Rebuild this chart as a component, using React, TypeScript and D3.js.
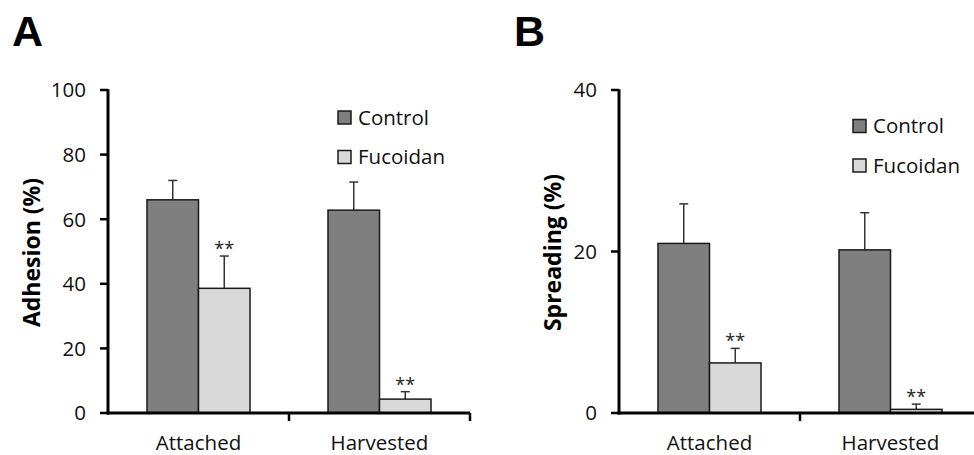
import React from "react";
import * as d3 from "d3";

const categories = ["Attached", "Harvested"];
const seriesNames = ["Control", "Fucoidan"];
const adhesionValues = [[66, 38.6], [62.8, 4.3]];
const adhesionErrors = [[6, 10], [8.7, 2.3]];
const spreadingValues = [[21.0, 6.2], [20.2, 0.45]];
const spreadingErrors = [[4.9, 1.8], [4.6, 0.65]];
const adhesionTicks = [0, 20, 40, 60, 80, 100];
const spreadingTicks = [0, 20, 40];
const colors = ["#7f7f7f", "#d9d9d9"];
const FONT = "'Open Sans', 'DejaVu Sans', sans-serif";

type PanelProps = {
  label: string;
  labelX: number;
  title: string;
  titleX: number;
  x0: number;
  x1: number;
  yMax: number;
  ticks: number[];
  values: number[][];
  errors: number[][];
  legendX: number;
  legendY: number;
};

function Panel(p: PanelProps) {
  const yTop = 90;
  const yBot = 413;
  const x = d3.scaleBand<string>().domain(categories).range([p.x0, p.x1]).padding(0);
  const xs = d3
    .scaleBand<string>()
    .domain(seriesNames)
    .range([0, x.bandwidth()])
    .paddingInner(0)
    .paddingOuter(0.757);
  const y = d3.scaleLinear().domain([0, p.yMax]).range([yBot, yTop]);
  const catTicks = [p.x0 + x.bandwidth(), p.x1];
  return (
    <g>
      <text x={p.labelX} y={46} fontFamily="'Liberation Sans', Arial, sans-serif" fontWeight="bold" fontSize={43} fill="#000">
        {p.label}
      </text>
      {categories.map((c, ci) =>
        seriesNames.map((s, si) => {
          const v = p.values[ci][si];
          const e = p.errors[ci][si];
          const bx = (x(c) as number) + (xs(s) as number);
          const bw = xs.bandwidth();
          const cx = bx + bw / 2;
          const errTop = y(v + e);
          return (
            <g key={c + s}>
              <line x1={cx} x2={cx} y1={y(v)} y2={errTop} stroke="#333" strokeWidth={1.5} />
              <line x1={cx - 4.5} x2={cx + 4.5} y1={errTop} y2={errTop} stroke="#333" strokeWidth={1.5} />
              <rect x={bx} y={y(v)} width={bw} height={yBot - y(v)} fill={colors[si]} stroke="#1a1a1a" strokeWidth={1.5} />
              {si === 1 ? (
                <text x={cx} y={errTop - 1} textAnchor="middle" fontFamily={FONT} fontSize={18} fill="#222">
                  **
                </text>
              ) : null}
            </g>
          );
        })
      )}
      <line x1={p.x0} x2={p.x0} y1={yTop - 0.75} y2={yBot + 1.5} stroke="#000" strokeWidth={3} />
      <line x1={p.x0 - 1.5} x2={p.x1} y1={yBot} y2={yBot} stroke="#000" strokeWidth={3} />
      {p.ticks.map((t) => (
        <g key={t}>
          <line x1={p.x0 - 8} x2={p.x0} y1={y(t)} y2={y(t)} stroke="#000" strokeWidth={2.5} />
          <text x={p.x0 - 22} y={y(t)} dy="0.36em" textAnchor="end" fontFamily={FONT} fontSize={20.5} fill="#111">
            {t}
          </text>
        </g>
      ))}
      {catTicks.map((t, i) => (
        <line key={i} x1={t} x2={t} y1={yBot} y2={yBot + 8} stroke="#000" strokeWidth={2.5} />
      ))}
      {categories.map((c) => (
        <text key={c} x={(x(c) as number) + x.bandwidth() / 2} y={450} textAnchor="middle" fontFamily={FONT} fontSize={20.5} fill="#111">
          {c}
        </text>
      ))}
      <text
        transform={`translate(${p.titleX},${(yTop + yBot) / 2 + 1}) rotate(-90)`}
        textAnchor="middle"
        dy="0.36em"
        fontFamily={FONT}
        fontWeight="bold"
        fontSize={23}
        fill="#000"
      >
        {p.title}
      </text>
      {seriesNames.map((s, si) => (
        <g key={s}>
          <rect x={p.legendX} y={p.legendY + si * 39.5} width={13} height={13} fill={colors[si]} stroke="#1a1a1a" strokeWidth={1.5} />
          <text x={p.legendX + 20} y={p.legendY + si * 39.5 + 6.5} dy="0.36em" fontFamily={FONT} fontSize={20.5} fill="#111">
            {s}
          </text>
        </g>
      ))}
    </g>
  );
}

export default function App() {
  return (
    <div style={{ position: "absolute", left: 0, top: 0 }}>
      <svg width={974} height={455} style={{ display: "block", background: "#fff" }}>
        <rect width={974} height={455} fill="#fff" />
        <Panel
          label="A"
          labelX={12}
          title="Adhesion (%)"
          titleX={32}
          x0={108}
          x1={470}
          yMax={100}
          ticks={adhesionTicks}
          values={adhesionValues}
          errors={adhesionErrors}
          legendX={338}
          legendY={111}
        />
        <Panel
          label="B"
          labelX={514}
          title="Spreading (%)"
          titleX={553}
          x0={619}
          x1={981}
          yMax={40}
          ticks={spreadingTicks}
          values={spreadingValues}
          errors={spreadingErrors}
          legendX={853}
          legendY={119.5}
        />
      </svg>
    </div>
  );
}
